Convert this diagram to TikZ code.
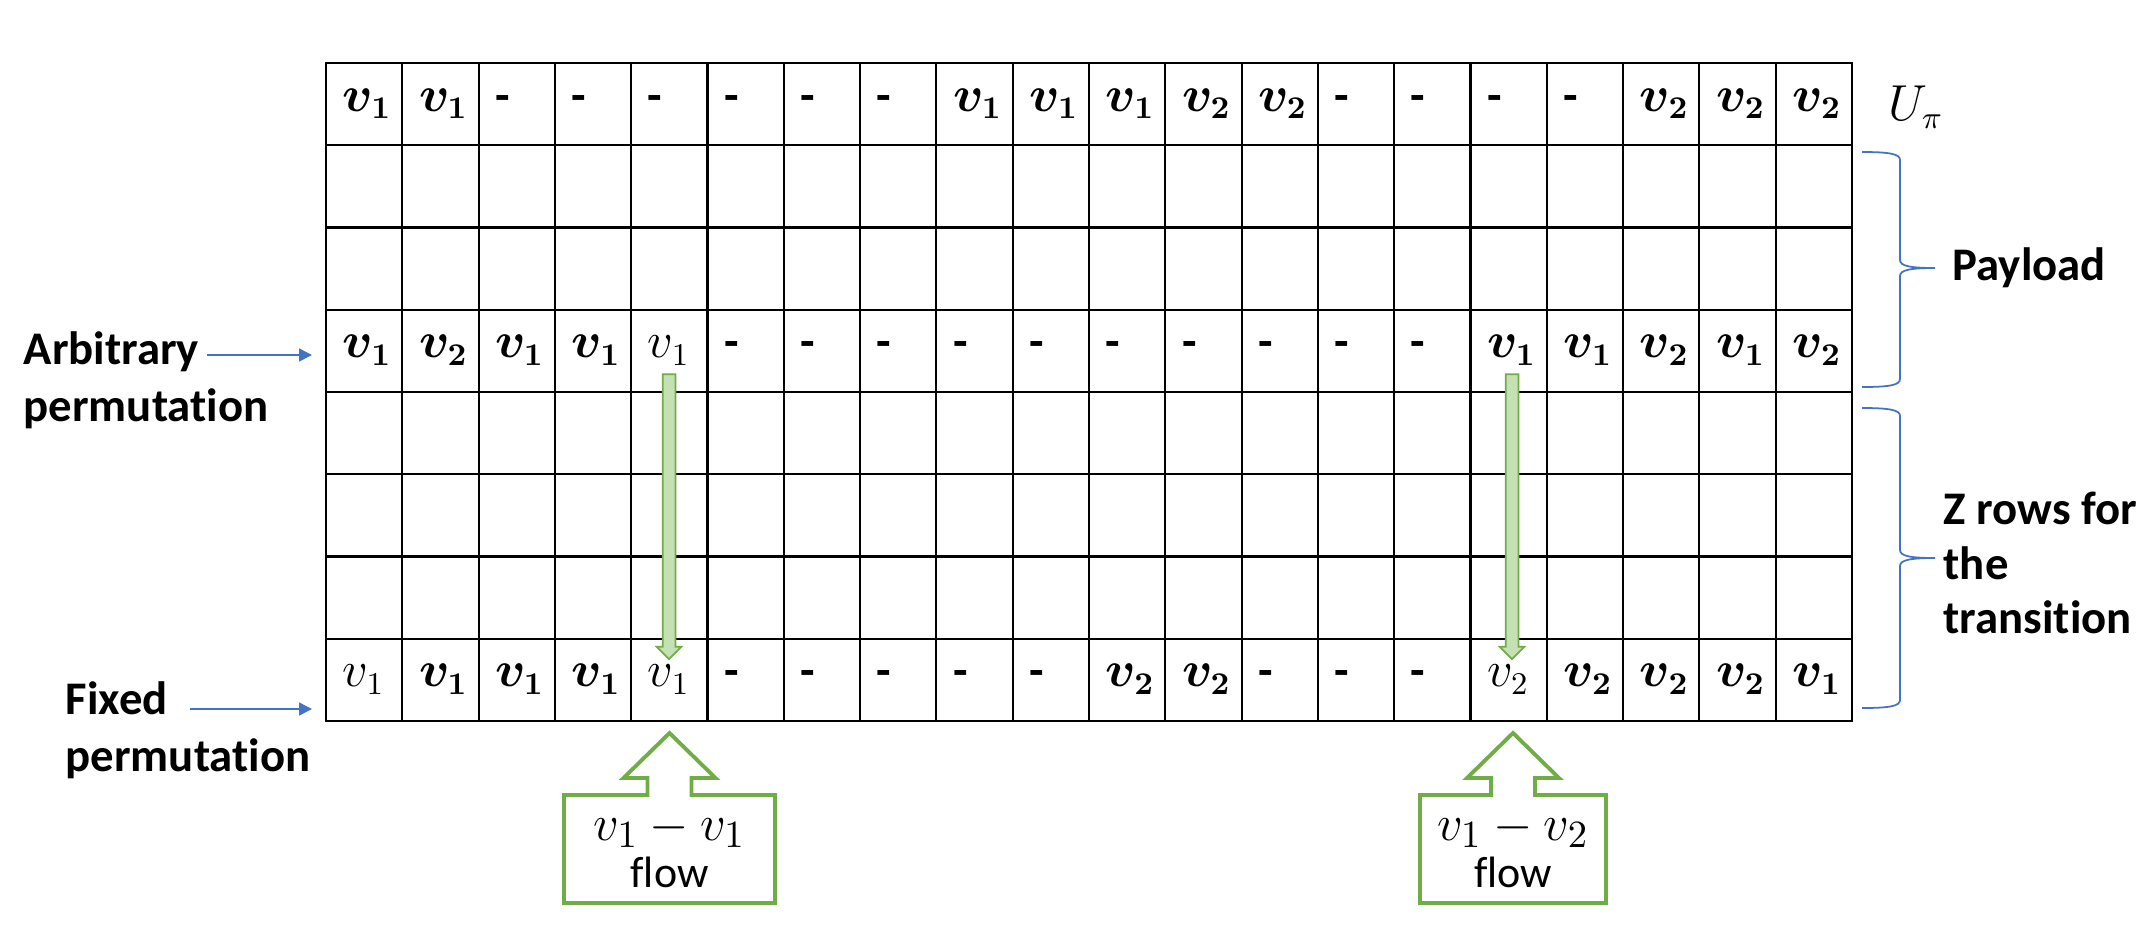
\documentclass[tikz,border=0pt]{standalone}
\usepackage{amsmath,amssymb}
\usepackage[no-math]{fontspec}
\setmainfont{Carlito}[Ligatures=NoCommon]
\usepackage{xcolor}
\usepackage{tikz}
\usetikzlibrary{arrows.meta,shapes.arrows}

\definecolor{flowline}{HTML}{70AD47}
\definecolor{flowfill}{HTML}{C5E0B4}
\definecolor{pointblue}{HTML}{4472C4}

% cell contents
\newcommand{\bvo}{$\boldsymbol{v_1}$}
\newcommand{\bvt}{$\boldsymbol{v_2}$}
\newcommand{\rvo}{$v_1$}
\newcommand{\rvt}{$v_2$}
\newcommand{\nov}{\textbf{-}}

\begin{document}
\begin{tikzpicture}[
    cell/.style={
        draw,
        line width=0.6pt,
        minimum width=0.763cm,
        minimum height=0.8225cm,
        inner sep=0,
        outer sep=0
    },
    entry/.style={anchor=base west, inner sep=0, font=\fontsize{13.5}{15}\selectfont},
    pointer/.style={-{Triangle[length=0.13cm,width=0.13cm]}, draw=pointblue, line width=0.45pt},
    sidelabel/.style={anchor=west, inner sep=0, align=left, font=\fontsize{13.3}{16.2}\selectfont\bfseries},
    brace/.style={draw=pointblue, line width=0.5pt},
    flowdown/.style={
        single arrow,
        draw=flowline,
        fill=flowfill,
        line width=0.5pt,
        rotate=-90,
        minimum height=2.85cm,
        minimum width=0.23cm,
        single arrow head extend=0.06cm,
        inner sep=0.055cm
    },
    flowbox/.style={minimum width=2.11cm, minimum height=1.08cm, inner sep=0, outer sep=0,
        align=center, font=\fontsize{12.5}{13.4}\selectfont},
    callout/.style={draw=flowline, line width=1.1pt, line join=miter}
]
\useasboundingbox (0,0) rectangle (21.56,-9.46);

% the table
\foreach \r in {1,...,8}
    \foreach \c in {1,...,20}
        \node[cell] (c\r-\c) at ({3.26+(\c-0.5)*0.763},{-0.63-(\r-0.5)*0.8225}) {};

\foreach \t [count=\c] in {\bvo,\bvo,\nov,\nov,\nov,\nov,\nov,\nov,\bvo,\bvo,\bvo,\bvt,\bvt,\nov,\nov,\nov,\nov,\bvt,\bvt,\bvt}
    \node[entry] (e1-\c) at ([xshift=0.16cm,yshift=-0.07cm]c1-\c.west) {\t};
\foreach \t [count=\c] in {\bvo,\bvt,\bvo,\bvo,\rvo,\nov,\nov,\nov,\nov,\nov,\nov,\nov,\nov,\nov,\nov,\bvo,\bvo,\bvt,\bvo,\bvt}
    \node[entry] (e4-\c) at ([xshift=0.16cm,yshift=-0.07cm]c4-\c.west) {\t};
\foreach \t [count=\c] in {\rvo,\bvo,\bvo,\bvo,\rvo,\nov,\nov,\nov,\nov,\nov,\bvt,\bvt,\nov,\nov,\nov,\rvt,\bvt,\bvt,\bvt,\bvo}
    \node[entry] (e8-\c) at ([xshift=0.16cm,yshift=-0.07cm]c8-\c.west) {\t};

\node[inner sep=0, font=\fontsize{13.5}{15}\selectfont] (upi) at (19.16,-1.07) {$U_\pi$};

% left labels
\node[sidelabel] (arb) at (0.23,-3.80) {Arbitrary\\permutation};
\node[sidelabel] (fixed) at (0.65,-7.30) {Fixed\\permutation};
\coordinate (arbtail) at (2.07,-3.55);
\coordinate (fixtail) at (1.90,-7.09);
\draw[pointer, shorten >=0.14cm] (arbtail) -- (arbtail -| c4-1.west);
\draw[pointer, shorten >=0.14cm] (fixtail) -- (fixtail -| c8-1.west);

% right braces
\node[sidelabel] (payload) at (19.52,-2.68) {Payload};
\node[sidelabel, font=\fontsize{13.3}{15.5}\selectfont\bfseries] (zrows) at (19.43,-5.63)
    {Z rows for\\the\\transition};
\coordinate (payTop) at (18.62,-1.52);
\coordinate (payTip) at (19.35,-2.68);
\coordinate (payBot) at (18.62,-3.87);
\draw[brace] (payTop) .. controls (18.90,-1.52) and (19.00,-1.54) .. (19.00,-1.60)
    -- (19.00,-2.60) .. controls (19.00,-2.66) and (19.10,-2.68) .. (payTip)
    .. controls (19.10,-2.68) and (19.00,-2.70) .. (19.00,-2.76)
    -- (19.00,-3.79) .. controls (19.00,-3.85) and (18.90,-3.87) .. (payBot);
\coordinate (zTop) at (18.62,-4.08);
\coordinate (zTip) at (19.35,-5.58);
\coordinate (zBot) at (18.62,-7.08);
\draw[brace] (zTop) .. controls (18.90,-4.08) and (19.00,-4.10) .. (19.00,-4.16)
    -- (19.00,-5.50) .. controls (19.00,-5.56) and (19.10,-5.58) .. (zTip)
    .. controls (19.10,-5.58) and (19.00,-5.60) .. (19.00,-5.66)
    -- (19.00,-7.00) .. controls (19.00,-7.06) and (18.90,-7.08) .. (zBot);

% flows
\node[flowdown] (dropA) at (6.69,-5.135) {};
\node[flowdown] (dropB) at (15.12,-5.135) {};

\node[flowbox] (flowA) at (6.695,-8.49) {{\fontsize{15}{15}\selectfont$v_1 - v_1$}\\flow};
\node[flowbox, minimum width=1.86cm] (flowB) at (15.13,-8.49) {{\fontsize{15}{15}\selectfont$v_1 - v_2$}\\flow};
\foreach \n in {flowA,flowB}
    \draw[callout] (\n.north west) -- ([xshift=-0.22cm]\n.north) -- ++(0,0.17) -- ++(-0.24,0)
        -- ([yshift=0.62cm]\n.north) -- ++(0.46,-0.45) -- ++(-0.24,0) -- ++(0,-0.17)
        -- (\n.north east) -- (\n.south east) -- (\n.south west) -- cycle;

\end{tikzpicture}
\end{document}
